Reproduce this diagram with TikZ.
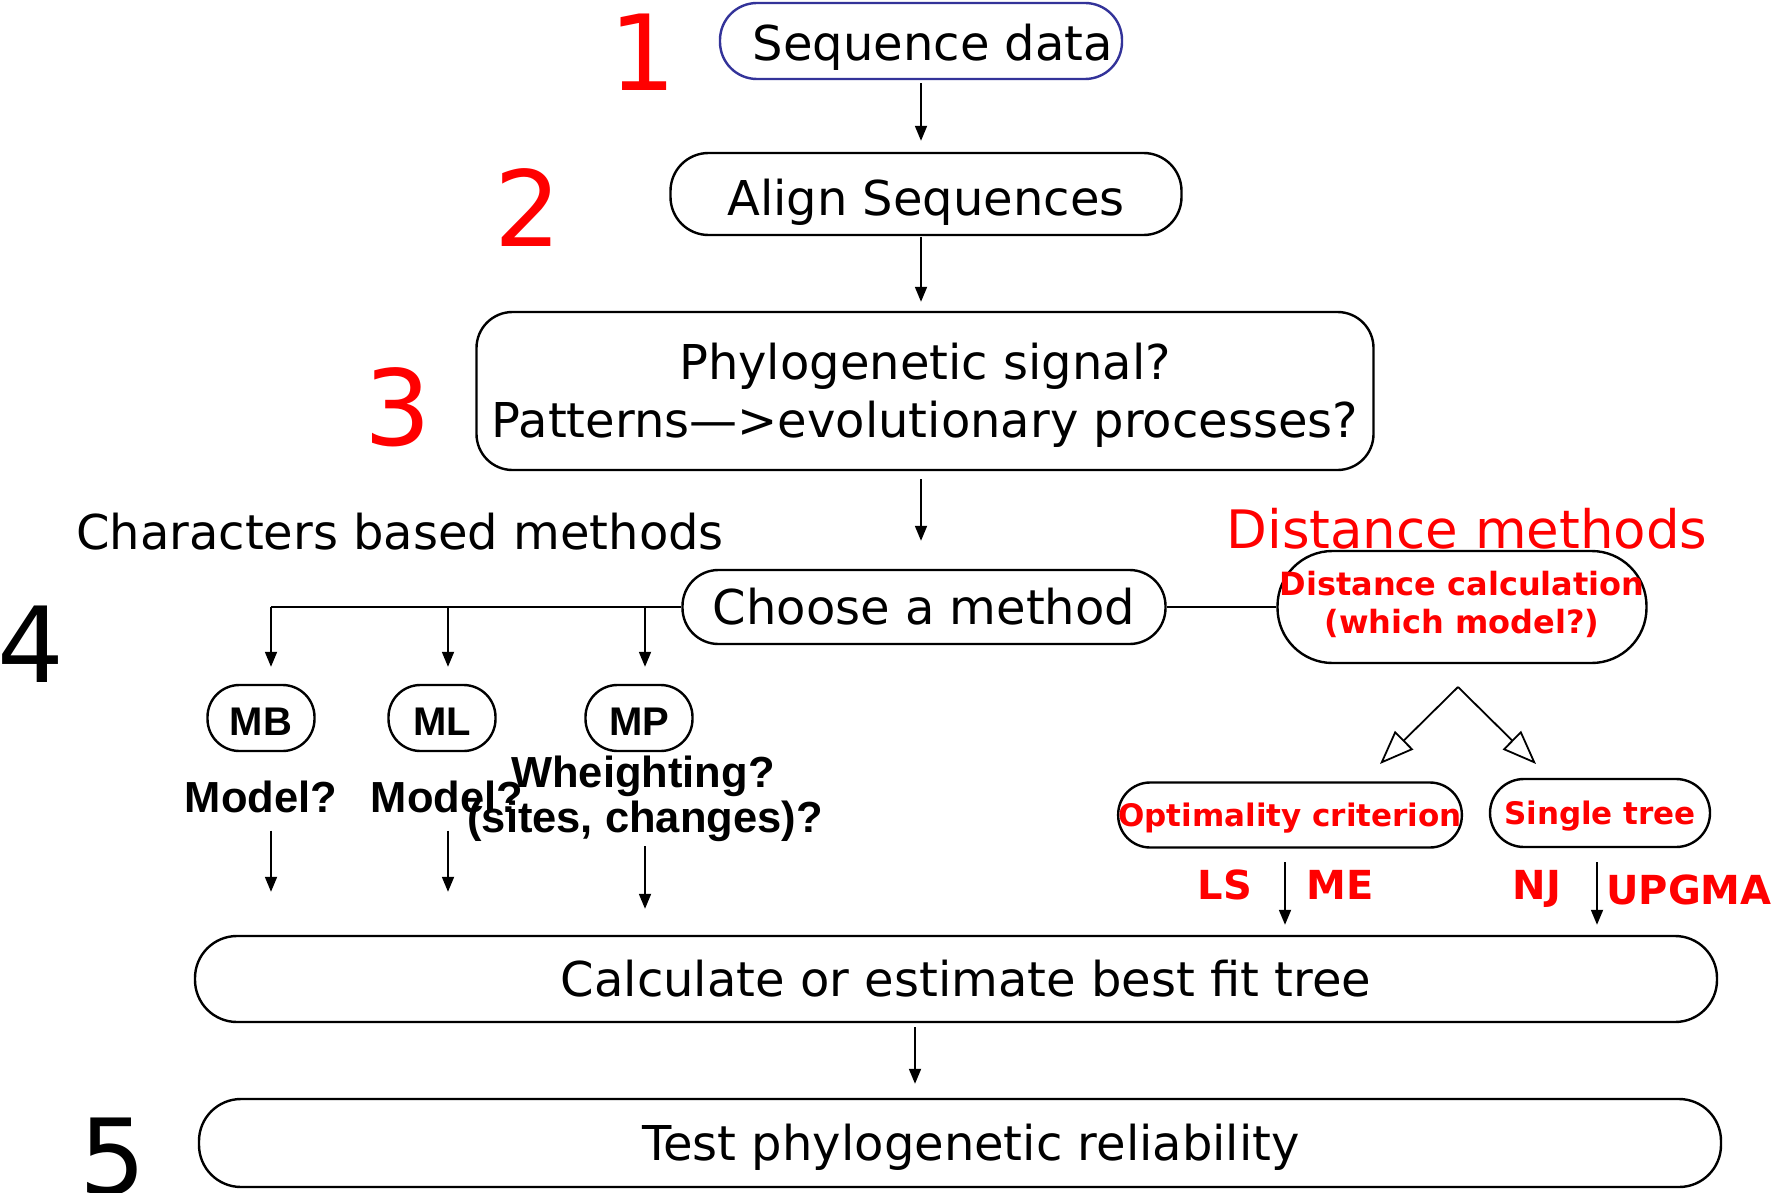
\documentclass[tikz,border=0pt]{standalone}
\usepackage{fontspec}
\setmainfont{DejaVu Sans}
\newfontfamily\arialfam{Liberation Sans}
\usetikzlibrary{arrows.meta}
\definecolor{seqblue}{RGB}{51,51,153}
\definecolor{hired}{RGB}{255,0,0}

\begin{document}
\begin{tikzpicture}[x=1pt,y=-1pt,
  box/.style={draw, line width=2.4pt, inner sep=0pt,
    font=\fontsize{48}{56}\selectfont, text height=35pt, text depth=0pt},
  smallbox/.style={draw, line width=2.4pt, inner sep=0pt,
    minimum width=107pt, minimum height=66pt, rounded corners=32pt,
    font=\arialfam\bfseries\fontsize{40}{46}\selectfont, text height=35pt, text depth=0pt},
  redbox/.style={draw, line width=2.4pt, inner sep=0pt, text=hired,
    font=\bfseries\fontsize{31}{37}\selectfont, text height=23pt, text depth=0pt},
  bignum/.style={anchor=base, inner sep=0pt, font=\fontsize{105}{120}\selectfont},
  plain/.style={anchor=base, inner sep=0pt, font=\fontsize{48}{56}\selectfont},
  qlabel/.style={anchor=base, inner sep=0pt, font=\arialfam\bfseries\fontsize{43.5}{50}\selectfont},
  methlabel/.style={anchor=base, inner sep=0pt, text=hired, font=\bfseries\fontsize{40}{46}\selectfont},
  arr/.style={line width=1.8pt, -{Triangle[length=15pt,width=12pt]}},
  link/.style={line width=1.8pt},
  openarr/.style={line width=1.8pt, -{Triangle[open,length=34pt,width=26pt,line width=1.8pt]}}
]
\useasboundingbox (0,0) rectangle (1777,1193);

% step numbers
\node[bignum, text=hired] (n1) at (643,91) {1};
\node[bignum, text=hired] (n2) at (528,247) {2};
\node[bignum, text=hired] (n3) at (398,445) {3};
\node[bignum] (n4) at (31,682) {4};
\node[bignum] (n5) at (113,1194) {5};

% main chain
\node[box, draw=seqblue, minimum width=402pt, minimum height=76pt, rounded corners=37pt,
  text height=39pt]
  (seq) at (921,41) {\hspace*{24pt}Sequence data};
\node[box, minimum width=511pt, minimum height=82pt, rounded corners=38pt,
  text height=42pt]
  (align) at (926,194) {Align Sequences};
% two-line boxes: the text box is measured from the cap line of the first
% line down to the baseline of the last one
\node[box, minimum width=897pt, minimum height=158pt, rounded corners=36pt,
  align=center, text height=93pt, text depth=0pt, font=\fontsize{48}{58}\selectfont]
  (phylo) at (925,391) {Phylogenetic signal?\\Patterns\textemdash>evolutionary processes?};
\node[box, minimum width=483pt, minimum height=74pt, rounded corners=36pt]
  (choose) at (924,607) {Choose a method};

% headings of the two branches
\node[plain, anchor=base west] (chars) at (76,549) {Characters based methods};
\node[plain, text=hired, font=\fontsize{53}{60}\selectfont] (distm) at (1467,548) {Distance methods};

% character based methods
\node[smallbox] (mb) at (261,718) {MB};
\node[smallbox] (ml) at (442,718) {ML};
\node[smallbox] (mp) at (639,718) {MP};
\node[qlabel] (mbq) at (261,812) {Model?};
\node[qlabel] (mlq) at (447,812) {Model?};
\node[qlabel] (mpq1) at (643,787) {Wheighting?};
\node[qlabel] (mpq2) at (645,832) {(sites, changes)?};

\coordinate (brMB) at (271,607);
\coordinate (brML) at (448,607);
\coordinate (brMP) at (645,607);
\draw[link] (choose.west) -- (brMB);
\draw[arr, shorten >=17pt] (brMB) -- (brMB |- mb.north);
\draw[arr, shorten >=17pt] (brML) -- (brML |- ml.north);
\draw[arr, shorten >=17pt] (brMP) -- (brMP |- mp.north);

% distance methods
\node[redbox, minimum width=369pt, minimum height=112pt, rounded corners=55pt,
  align=center, text height=53pt, text depth=0pt, font=\bfseries\fontsize{32}{38}\selectfont]
  (dist) at (1462,607) {Distance calculation\\(which model?)};
\draw[link] (choose.east) -- (dist.west);

\coordinate (apex) at (1458,687);
\coordinate (tipL) at (1380,764);
\coordinate (tipR) at (1536,764);
\draw[openarr] (apex) -- (tipL);
\draw[openarr] (apex) -- (tipR);

\node[redbox, minimum width=343pt, minimum height=65pt, rounded corners=32pt]
  (optc) at (1290,815) {Optimality criterion};
\node[redbox, minimum width=220pt, minimum height=68pt, rounded corners=34pt]
  (single) at (1600,813) {Single tree};

\node[methlabel] (ls) at (1225,899) {LS};
\node[methlabel] (me) at (1340,899) {ME};
\node[methlabel] (nj) at (1537,899) {NJ};
\node[methlabel] (upgma) at (1689,904) {UPGMA};

% final steps
\node[box, minimum width=1522pt, minimum height=86pt, rounded corners=42pt]
  (calc) at (956,979) {\hspace*{20pt}Calculate or estimate best fit tree};
\node[box, minimum width=1522pt, minimum height=88pt, rounded corners=42pt]
  (test) at (960,1143) {\hspace*{22pt}Test phylogenetic reliability};

% vertical connectors
\draw[arr, shorten <=3pt, shorten >=11pt] (seq.south) -- (seq.south |- align.north);
\draw[arr, shorten <=1pt, shorten >=9pt] (align.south -| seq.south) -- (phylo.north -| seq.south);
\draw[arr, shorten <=8pt, shorten >=28pt] (phylo.south -| seq.south) -- (choose.north -| seq.south);

\draw[arr, shorten <=18pt, shorten >=43pt] (mbq.south -| brMB) -- (calc.north -| brMB);
\draw[arr, shorten <=18pt, shorten >=43pt] (mlq.south -| brML) -- (calc.north -| brML);
\draw[arr, shorten <=5pt, shorten >=26pt] (mpq2.south -| brMP) -- (calc.north -| brMP);

\coordinate (lsx) at (1285,862);
\coordinate (njx) at (1597,862);
\draw[arr, shorten >=10pt] (lsx) -- (lsx |- calc.north);
\draw[arr, shorten >=10pt] (njx) -- (njx |- calc.north);

\coordinate (ct) at (915,979);
\draw[arr, shorten <=4pt, shorten >=14pt] (calc.south -| ct) -- (test.north -| ct);
\end{tikzpicture}
\end{document}
